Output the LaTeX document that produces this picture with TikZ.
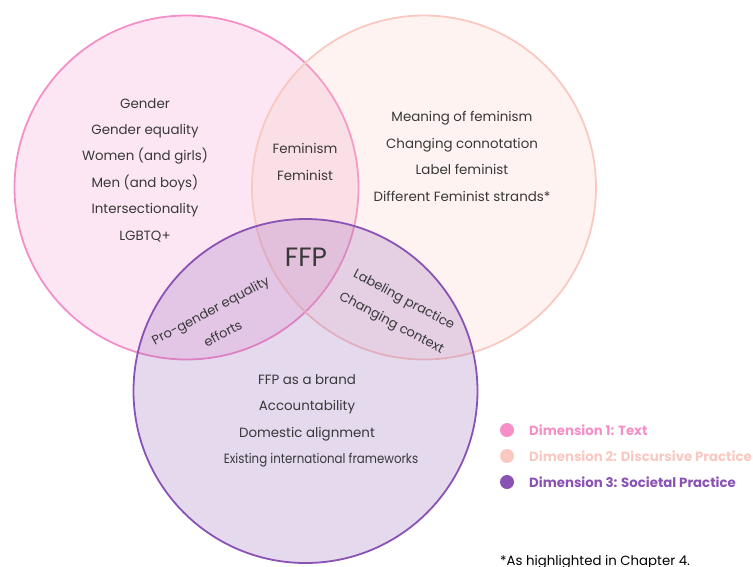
\documentclass[tikz,border=0pt]{standalone}
\usepackage{fontspec}
\setmainfont{Poppins}
\definecolor{pinkC}{HTML}{F48FC8}
\definecolor{peachC}{HTML}{F9C8C0}
\definecolor{purpleC}{HTML}{8A52B3}
\definecolor{txtC}{HTML}{383838}
\begin{document}
\begin{tikzpicture}[x=1pt,y=-1pt,
  setcirc/.style={circle, minimum size=344pt, inner sep=0pt, line width=1.8pt, fill opacity=0.22},
  lbl/.style={text=txtC, align=center, inner sep=0pt, font=\fontsize{13.4}{26.4}\selectfont},
  legdot/.style={circle, minimum size=14pt, inner sep=0pt},
  legtxt/.style={anchor=west, inner sep=0pt, font=\fontsize{13.3}{16}\selectfont\bfseries}]
\useasboundingbox (0,0) rectangle (753,566);
% circles
\node[setcirc, draw=pinkC, fill=pinkC] (c1) at (186.5,187.5) {};
\node[setcirc, draw=peachC, fill=peachC] (c2) at (424,187.5) {};
\node[setcirc, draw=purpleC, fill=purpleC] (c3) at (305.5,391) {};
% texts
\node[lbl] (t1) at (145,170) {Gender\\Gender equality\\Women (and girls)\\Men (and boys)\\Intersectionality\\LGBTQ+};
\node[lbl] (t2) at (462,156.5) {Meaning of feminism\\Changing connotation\\Label feminist\\Different Feminist strands*};
\node[lbl] (t12) at (305,162) {Feminism\\Feminist};
\node[text=txtC, inner sep=0pt, font=\fontsize{26.5}{30}\selectfont] (ffp) at (306,257) {FFP};
\node[lbl, rotate=28, font=\fontsize{13}{26.4}\selectfont] (t13) at (216.5,322) {Pro-gender equality\\efforts};
\node[lbl, rotate=-28, font=\fontsize{13}{26.4}\selectfont] (t23) at (397.5,312) {Labeling practice\\Changing context};
\node[lbl] (t3) at (307,407.5) {FFP as a brand\\Accountability\\Domestic alignment};
\node[lbl, xscale=0.88] (t3b) at (321,460.5) {Existing international frameworks};
% legend
\node[legdot, fill=pinkC] (d1) at (507,430) {};
\node[legdot, fill=peachC] (d2) at (507,456) {};
\node[legdot, fill=purpleC] (d3) at (507,482) {};
\node[legtxt, text=pinkC] (l1) at (529,430) {Dimension 1: Text};
\node[legtxt, text=peachC] (l2) at (529,456) {Dimension 2: Discursive Practice};
\node[legtxt, text=purpleC] (l3) at (529,482) {Dimension 3: Societal Practice};
\node[anchor=base west, inner sep=0pt, text=black, font=\fontsize{13.3}{16}\selectfont] (fn) at (500,565.5) {*As highlighted in Chapter 4.};
\end{tikzpicture}
\end{document}
